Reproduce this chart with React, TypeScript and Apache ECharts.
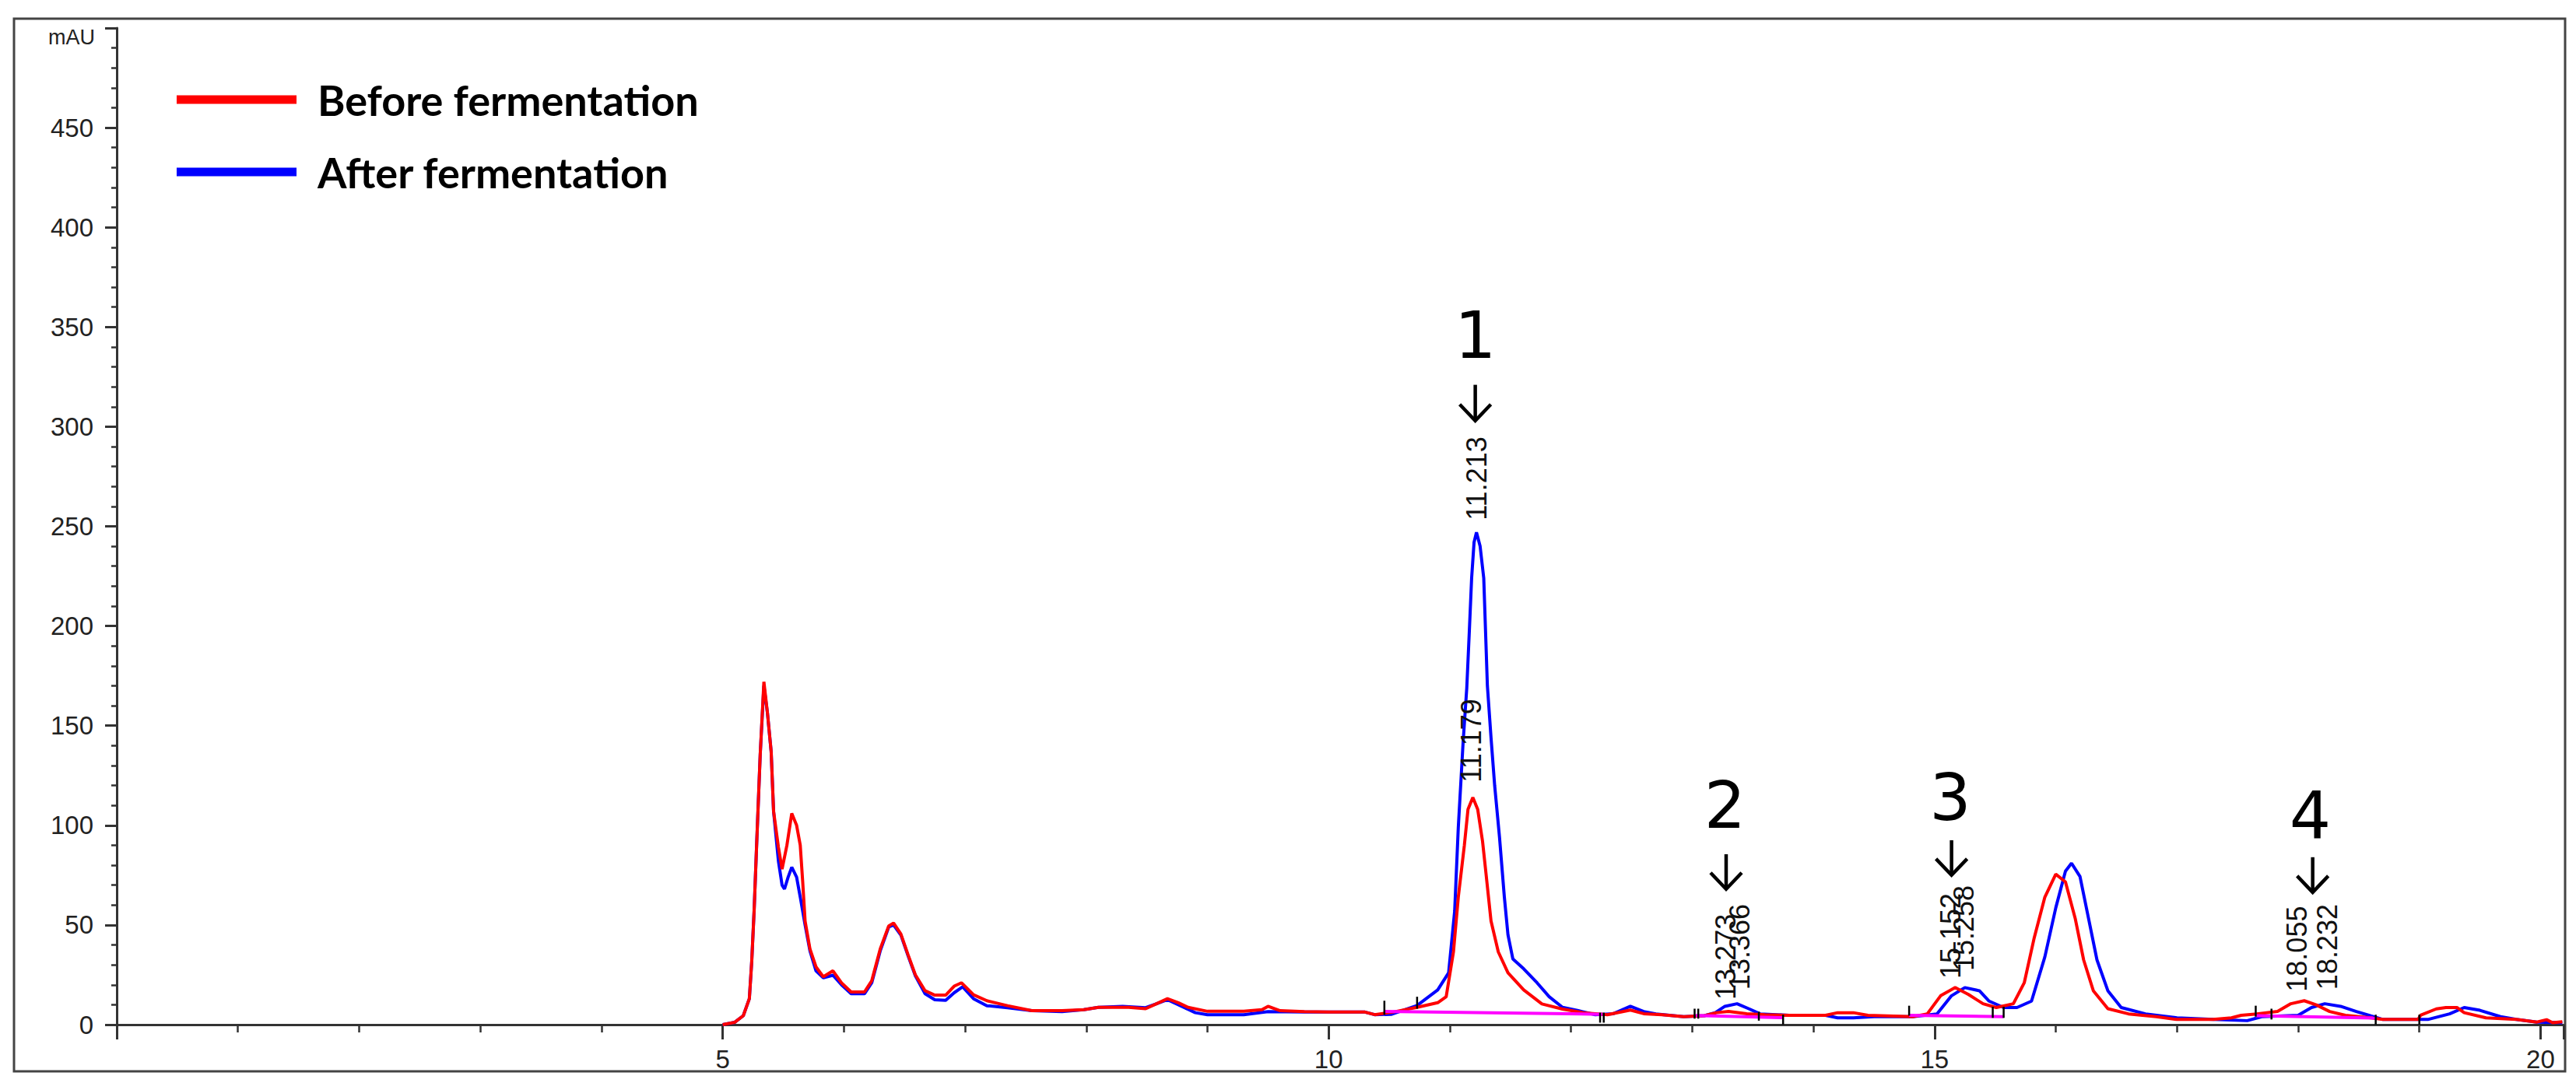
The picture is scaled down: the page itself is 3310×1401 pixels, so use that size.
import React, { useEffect, useRef } from "react";
import * as echarts from "echarts";

// Retention time (min) vs absorbance (mAU)
const beforeFermentation: [number, number][] = [
  [5.0, 0], [5.1, 1.2], [5.17, 4.5], [5.22, 13], [5.24, 32], [5.26, 58], [5.28, 90], [5.31, 136],
  [5.34, 172], [5.37, 156], [5.4, 137], [5.42, 107], [5.46, 89], [5.49, 78], [5.53, 90], [5.57, 106],
  [5.61, 100], [5.64, 90], [5.66, 72], [5.68, 52], [5.72, 38], [5.77, 29], [5.83, 24], [5.91, 27],
  [5.98, 21], [6.06, 16.4], [6.17, 16.4], [6.23, 22], [6.3, 38], [6.37, 49.5], [6.41, 51], [6.47, 45.5],
  [6.53, 35], [6.59, 25], [6.67, 17], [6.75, 14.8], [6.84, 14.8], [6.91, 19.3], [6.97, 21], [7.07, 15],
  [7.18, 12], [7.35, 9.5], [7.55, 7], [7.8, 7], [7.98, 7.5], [8.1, 8.7], [8.35, 8.7], [8.49, 8],
  [8.58, 10.5], [8.67, 13], [8.76, 11], [8.84, 8.7], [9.0, 6.7], [9.3, 6.7], [9.45, 7.5], [9.5, 9.2],
  [9.6, 7], [9.8, 6.5], [10.0, 6.3], [10.3, 6.3], [10.38, 5], [10.53, 6.3], [10.73, 8.7], [10.9, 11],
  [10.97, 14], [11.03, 36.5], [11.07, 64], [11.12, 90], [11.15, 108], [11.19, 114], [11.23, 108],
  [11.27, 92], [11.3, 75], [11.34, 52], [11.4, 36.5], [11.48, 26], [11.61, 17.4], [11.76, 10.4],
  [11.93, 7.8], [12.1, 6], [12.3, 5], [12.49, 7.3], [12.6, 5.5], [12.75, 5], [12.93, 4], [13.1, 4.5],
  [13.2, 6], [13.3, 6.6], [13.45, 5.5], [13.6, 5], [13.8, 4.7], [14.1, 4.7], [14.2, 6], [14.33, 6],
  [14.45, 4.7], [14.82, 4], [14.94, 5.4], [15.05, 14.5], [15.17, 18.6], [15.28, 15.1], [15.4, 10.5],
  [15.51, 8.6], [15.65, 10.5], [15.74, 21], [15.82, 43], [15.91, 64], [16.0, 75.5], [16.08, 71.6],
  [16.16, 53.4], [16.23, 32.5], [16.31, 17], [16.43, 8], [16.6, 5.4], [16.83, 4], [17.0, 2.6],
  [17.3, 2.6], [17.45, 3.4], [17.53, 4.7], [17.66, 5.4], [17.83, 6.6], [17.94, 10.5], [18.05, 12],
  [18.15, 9.9], [18.26, 6.6], [18.39, 4.7], [18.6, 3.4], [18.7, 2.6], [18.99, 2.6], [19.01, 4.7],
  [19.14, 7.9], [19.22, 8.6], [19.31, 8.6], [19.37, 6], [19.55, 3.4], [19.8, 2.6], [19.97, 1.3],
  [20.05, 2.5], [20.1, 1], [20.18, 1.5],
];

const afterFermentation: [number, number][] = [
  [5.0, 0], [5.1, 1.2], [5.17, 4.5], [5.22, 13], [5.24, 32], [5.26, 58], [5.28, 90], [5.31, 136],
  [5.34, 170], [5.37, 156], [5.4, 137], [5.42, 107], [5.46, 82], [5.49, 70], [5.51, 68], [5.54, 74],
  [5.57, 79], [5.61, 74], [5.64, 64], [5.68, 50], [5.72, 37], [5.77, 27], [5.83, 23.5], [5.91, 24.8],
  [5.98, 20], [6.06, 15.5], [6.17, 15.5], [6.23, 21], [6.3, 37], [6.37, 49], [6.41, 50], [6.47, 45],
  [6.53, 34.5], [6.59, 24.5], [6.67, 15.5], [6.75, 12.5], [6.84, 12.2], [6.91, 16], [6.98, 19],
  [7.07, 13], [7.18, 9.5], [7.35, 8.5], [7.55, 7], [7.8, 6.5], [7.98, 7.5], [8.1, 8.7], [8.3, 9.2],
  [8.49, 8.5], [8.58, 10.5], [8.67, 12.5], [8.76, 10], [8.9, 6], [9.0, 5], [9.3, 5], [9.5, 6.5],
  [9.8, 6.3], [10.0, 6.3], [10.3, 6.3], [10.38, 5], [10.52, 5.2], [10.73, 9.6], [10.9, 17.4],
  [10.99, 26], [11.04, 57], [11.07, 99], [11.11, 142], [11.14, 169], [11.16, 196], [11.18, 224],
  [11.2, 242], [11.22, 247], [11.25, 240], [11.28, 224], [11.31, 170], [11.34, 144], [11.37, 120],
  [11.41, 94], [11.45, 64], [11.48, 45], [11.52, 33], [11.61, 28], [11.72, 21], [11.82, 14],
  [11.93, 8.7], [12.06, 7], [12.2, 5], [12.35, 5.5], [12.49, 9.2], [12.6, 6.6], [12.7, 5.4],
  [12.93, 4], [13.1, 4.5], [13.19, 6], [13.27, 9.2], [13.37, 10.5], [13.47, 7.9], [13.56, 5.4],
  [13.8, 4.7], [14.1, 4.7], [14.2, 3.4], [14.33, 3.4], [14.5, 4], [14.82, 4], [15.02, 5.4],
  [15.14, 14.5], [15.25, 18.6], [15.37, 17], [15.45, 11.8], [15.57, 8.6], [15.68, 8.6], [15.8, 11.8],
  [15.91, 34], [16.0, 58.6], [16.08, 77], [16.13, 81], [16.2, 74.3], [16.27, 53.4], [16.34, 32.5],
  [16.43, 17], [16.54, 8.6], [16.74, 5.4], [17.0, 3.4], [17.3, 2.6], [17.58, 2], [17.7, 4],
  [18.0, 4.7], [18.11, 8.6], [18.22, 10.5], [18.35, 9.2], [18.48, 6.6], [18.6, 4.4], [18.7, 2.6],
  [19.07, 2.6], [19.25, 5.4], [19.37, 8.6], [19.5, 7.2], [19.67, 4], [19.8, 2.6], [19.97, 1.3],
  [20.18, 1],
];

// Integration baselines (magenta)
const baselineSegments: [number, number][][] = [
  [[10.46, 6.6], [12.26, 5.2]],
  [[13.03, 4.6], [13.75, 3.5]],
  [[14.79, 4.7], [15.57, 4.0]],
  [[17.65, 4.5], [18.64, 3.3]],
];

// Integration event marks: [time, low, high]
const integrationMarks: [number, number, number][] = [
  [10.46, 5, 12], [10.73, 8, 14], [12.24, 1, 6], [12.27, 1, 6], [13.02, 3, 8], [13.05, 3, 8],
  [13.55, 2, 6.5], [13.75, 0, 5], [14.79, 4.5, 9.5], [15.48, 3.4, 9], [15.57, 3.4, 9],
  [17.65, 4, 9.5], [17.78, 2.6, 8], [18.64, 0, 5], [19.0, 0, 5],
];

// Peak numbers and arrows
const peakNumbers = ["1", "2", "3", "4"];
const peakNumberPos: [number, number][] = [[11.21, 346], [13.27, 110], [15.13, 114], [18.1, 105]];
const peakArrows: [number, number, number][] = [
  [11.21, 321, 303], [13.28, 85.5, 68], [15.14, 92.5, 75], [18.12, 84, 66.4],
];

// Retention-time labels
const rtLabels = ["11.213", "11.179", "13.273", "13.366", "15.152", "15.258", "18.055", "18.232"];
const rtLabelPos: [number, number][] = [
  [11.22, 274], [11.18, 142.5], [13.28, 34], [13.39, 39], [15.13, 44.5], [15.24, 48.4], [17.99, 38], [18.24, 39],
];

const X_MIN = 0;
const X_MAX = 20.19;
const Y_MIN = 0;
const Y_MAX = 500;

export default function App() {
  const ref = useRef<HTMLDivElement>(null);

  useEffect(() => {
    if (!ref.current) return;
    const chart = echarts.init(ref.current, undefined, { renderer: "svg" });

    const baselineSeries = baselineSegments.map((seg, i) => ({
      name: "baseline" + i,
      type: "line",
      data: seg,
      showSymbol: false,
      lineStyle: { color: "#ff00ff", width: 4 },
      silent: true,
      z: 4,
    }));

    const option: any = {
      animation: false,
      backgroundColor: "#ffffff",
      grid: { left: 150, right: 16, top: 36, bottom: 84 },
      legend: {
        data: ["Before fermentation", "After fermentation"],
        orient: "vertical",
        left: 222,
        top: 93,
        icon: "rect",
        itemWidth: 154,
        itemHeight: 11,
        itemGap: 33,
        textStyle: {
          fontFamily: "Lato",
          fontWeight: "bold",
          fontSize: 54,
          lineHeight: 60,
          color: "#000",
          padding: [0, 0, 0, 22],
        },
      },
      xAxis: {
        type: "value",
        min: X_MIN,
        max: X_MAX,
        interval: 5,
        axisLine: { show: true, onZero: false, lineStyle: { color: "#333", width: 3 } },
        axisTick: { show: true, length: 19, lineStyle: { color: "#333", width: 3 } },
        minorTick: { show: true, splitNumber: 5, length: 10, lineStyle: { color: "#333", width: 2.5 } },
        splitLine: { show: false },
        axisLabel: {
          margin: 28,
          fontFamily: "Liberation Sans",
          fontSize: 33,
          color: "#222",
          showMaxLabel: false,
          formatter: (v: number) => (v === 0 ? "" : String(v)),
        },
      },
      yAxis: {
        type: "value",
        min: Y_MIN,
        max: Y_MAX,
        interval: 50,
        name: "mAU",
        nameLocation: "end",
        nameGap: -12,
        nameTextStyle: {
          fontFamily: "Liberation Sans",
          fontSize: 27,
          color: "#222",
          align: "right",
          verticalAlign: "middle",
          padding: [0, 28, 0, 0],
        },
        axisLine: { show: true, lineStyle: { color: "#333", width: 3 } },
        axisTick: { show: true, length: 15, lineStyle: { color: "#333", width: 3 } },
        minorTick: { show: true, splitNumber: 5, length: 7, lineStyle: { color: "#333", width: 2.5 } },
        splitLine: { show: false },
        axisLabel: {
          margin: 30,
          fontFamily: "Liberation Sans",
          fontSize: 33,
          color: "#222",
          formatter: (v: number) => (v >= Y_MAX ? "" : String(v)),
        },
      },
      series: [
        {
          name: "After fermentation",
          type: "line",
          data: afterFermentation,
          showSymbol: false,
          color: "#0000ff",
          lineStyle: { color: "#0000ff", width: 4 },
          z: 2,
        },
        {
          name: "Before fermentation",
          type: "line",
          data: beforeFermentation,
          showSymbol: false,
          color: "#ff0000",
          lineStyle: { color: "#ff0000", width: 4 },
          z: 3,
        },
        ...baselineSeries,
        {
          name: "marks",
          type: "custom",
          data: integrationMarks,
          silent: true,
          z: 5,
          renderItem: (params: any, api: any) => {
            const a = api.coord([api.value(0), api.value(1)]);
            const b = api.coord([api.value(0), api.value(2)]);
            return {
              type: "line",
              shape: { x1: a[0], y1: a[1], x2: b[0], y2: b[1] },
              style: { stroke: "#000", lineWidth: 2.5 },
            };
          },
        },
        {
          name: "arrows",
          type: "custom",
          data: peakArrows,
          silent: true,
          z: 6,
          renderItem: (params: any, api: any) => {
            const top = api.coord([api.value(0), api.value(1)]);
            const bot = api.coord([api.value(0), api.value(2)]);
            return {
              type: "group",
              children: [
                {
                  type: "line",
                  shape: { x1: top[0], y1: top[1], x2: bot[0], y2: bot[1] },
                  style: { stroke: "#000", lineWidth: 4.5 },
                },
                {
                  type: "polyline",
                  shape: {
                    points: [
                      [bot[0] - 20, bot[1] - 21],
                      [bot[0], bot[1]],
                      [bot[0] + 20, bot[1] - 21],
                    ],
                  },
                  style: { stroke: "#000", lineWidth: 4.5, fill: "none" },
                },
              ],
            };
          },
        },
        {
          name: "peakNumbers",
          type: "custom",
          data: peakNumberPos,
          silent: true,
          z: 6,
          renderItem: (params: any, api: any) => {
            const p = api.coord([api.value(0), api.value(1)]);
            return {
              type: "text",
              x: p[0],
              y: p[1],
              style: {
                text: peakNumbers[params.dataIndex],
                fontFamily: "DejaVu Sans",
                fontSize: 84,
                fill: "#000",
                align: "center",
                verticalAlign: "middle",
              },
            };
          },
        },
        {
          name: "rtLabels",
          type: "custom",
          data: rtLabelPos,
          silent: true,
          z: 6,
          renderItem: (params: any, api: any) => {
            const p = api.coord([api.value(0), api.value(1)]);
            return {
              type: "text",
              x: p[0],
              y: p[1],
              rotation: Math.PI / 2,
              style: {
                text: rtLabels[params.dataIndex],
                fontFamily: "Liberation Sans",
                fontSize: 36,
                fill: "#111",
                align: "center",
                verticalAlign: "middle",
              },
            };
          },
        },
      ],
      graphic: [
        {
          type: "rect",
          silent: true,
          z: -10,
          shape: { x: 18, y: 24, width: 3278, height: 1353 },
          style: { fill: "none", stroke: "#444", lineWidth: 3 },
        },
      ],
    };

    chart.setOption(option);
    return () => chart.dispose();
  }, []);

  return (
    <div
      ref={ref}
      style={{ position: "absolute", left: 0, top: 0, width: 3310, height: 1401 }}
    />
  );
}
